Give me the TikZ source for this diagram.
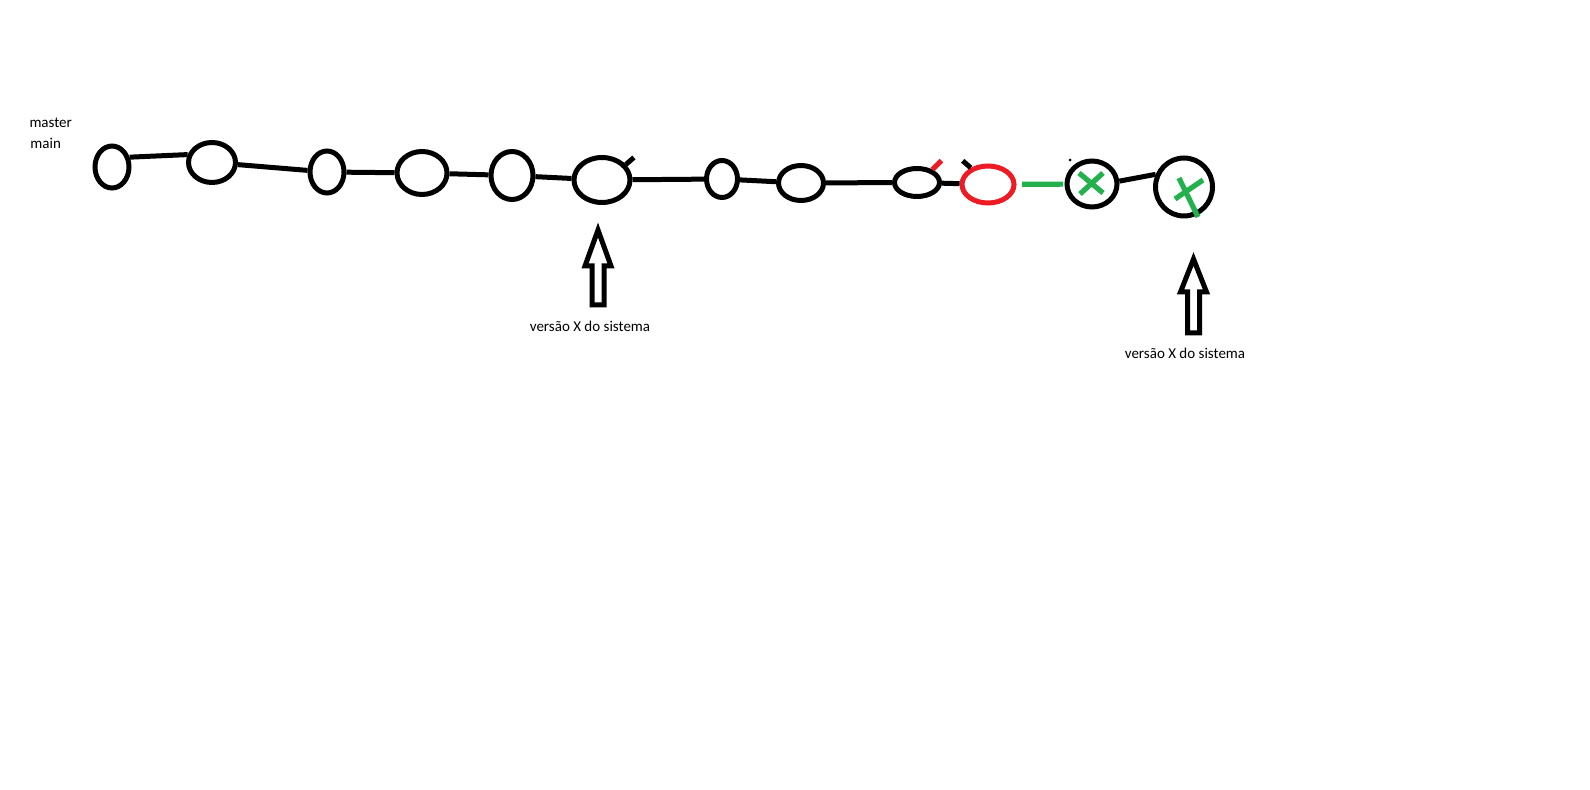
\documentclass[tikz,border=0pt]{standalone}
\usepackage{fontspec}
\setmainfont{Carlito}
\usetikzlibrary{shapes.geometric}
\definecolor{paintred}{HTML}{ED1C24}
\definecolor{paintgreen}{HTML}{22B14C}
\begin{document}
\begin{tikzpicture}[x=0.5pt,y=-0.5pt,line width=2.5pt]
  \tikzstyle{commit}=[ellipse,draw,inner sep=0pt]
  \tikzstyle{caption}=[inner sep=0pt,font=\fontsize{7.5}{9}\selectfont]
  \tikzstyle{cross}=[paintgreen,line width=2.6pt]
  \path[use as bounding box,fill=white] (0,0) rectangle (1590,790);
  % branch names
  \node[caption,anchor=base west] (master) at (27,128) {master};
  \node[caption,anchor=base west] (main) at (28,149) {main};
  % commits
  \node[commit,minimum width=17pt,minimum height=21pt] (c1) at (112,167) {};
  \node[commit,minimum width=23.5pt,minimum height=20pt] (c2) at (212,162.5) {};
  \node[commit,minimum width=17pt,minimum height=21pt] (c3) at (327,172) {};
  \node[commit,minimum width=25pt,minimum height=21.5pt] (c4) at (422,173) {};
  \node[commit,minimum width=21pt,minimum height=24pt] (c5) at (512,175.5) {};
  \node[commit,minimum width=28pt,minimum height=22.5pt] (c6) at (602,180) {};
  \node[commit,minimum width=15.5pt,minimum height=18.5pt] (c7) at (722,179) {};
  \node[commit,minimum width=22.5pt,minimum height=17.5pt] (c8) at (801,183) {};
  \node[commit,minimum width=22.5pt,minimum height=14pt] (c9) at (917,182.5) {};
  \node[commit,draw=paintred,minimum width=26pt,minimum height=18.5pt] (c10) at (988,184.5) {};
  \node[commit,minimum width=25pt,minimum height=23pt] (c11) at (1092,184) {};
  \node[commit,minimum width=28.5pt,minimum height=29pt] (c12) at (1184,187) {};
  % history line
  \draw (c1.29) -- (c2.162);
  \draw (c2) -- (c3);
  \draw (c3) -- (c4);
  \draw (c4) -- (c5);
  \draw (c5) -- (c6);
  \draw (c6) -- (c7);
  \draw (c7) -- (c8);
  \draw (c8) -- (c9);
  \draw (c9) -- (c10);
  \draw[cross,shorten <=2.75pt,shorten >=0.75pt] (c10) -- (c11);
  \draw (c11.6) -- (c12.156);
  % scribbles
  \draw (c6.33) -- ++(8,-7);
  \draw[paintred] (c9.40) -- ++(9,-9);
  \draw (c10.136) -- ++(-8,-7);
  \fill ([shift={(-22,-24)}]c11.center) circle (1.5);
  \draw[cross] ([shift={(-13,-11)}]c11.center) -- ([shift={(11,9)}]c11.center);
  \draw[cross] ([shift={(11,-11)}]c11.center) -- ([shift={(-12,10)}]c11.center);
  \draw[cross] ([shift={(-9,12)}]c12.center) -- ([shift={(19,-7)}]c12.center);
  \draw[cross] ([shift={(-5,-9)}]c12.center) -- ([shift={(14,30)}]c12.center);
  % version arrows
  \coordinate (tip1) at (598,230);
  \coordinate (tip2) at (1193.5,259);
  \draw (tip1) -- ++(13,36) -- ++(-7,0) -- ++(0,39) -- ++(-12,0) -- ++(0,-39) -- ++(-7,0) -- cycle;
  \draw (tip2) -- ++(13,33) -- ++(-7,0) -- ++(0,41) -- ++(-12,0) -- ++(0,-41) -- ++(-7,0) -- cycle;
  \node[caption,anchor=base] (v1) at (590,331.5) {versão X do sistema};
  \node[caption,anchor=base] (v2) at (1185,358.5) {versão X do sistema};
\end{tikzpicture}
\end{document}
